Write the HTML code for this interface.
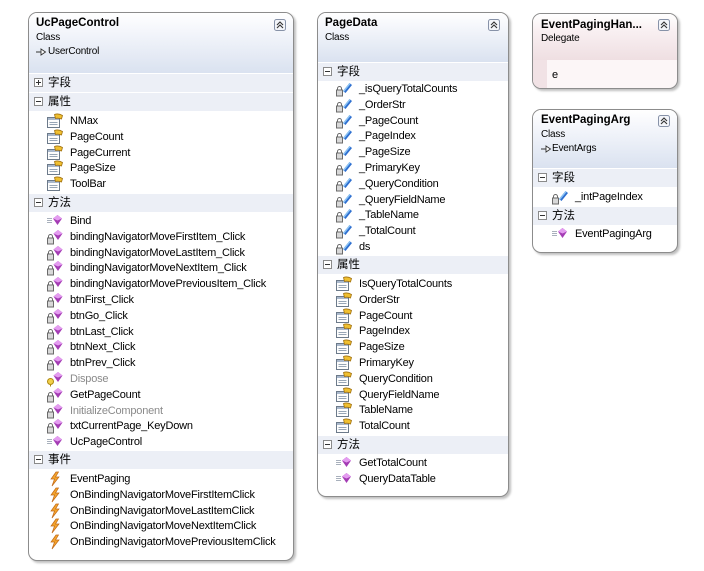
<!DOCTYPE html>
<html><head><meta charset="utf-8">
<style>
html,body{margin:0;padding:0}
body{width:704px;height:571px;background:#fff;position:relative;overflow:hidden;font-family:"Liberation Sans","Noto Sans CJK SC",sans-serif;color:#000}
.box{position:absolute;box-sizing:border-box;border:1px solid #8c8c8c;border-radius:9px;background:#fff;box-shadow:2px 2px 2px rgba(0,0,0,0.25);overflow:hidden}
.hd{position:absolute;left:0;right:0;top:0;background:linear-gradient(to bottom,#ffffff 0%,#f4f6fb 30%,#dae2f0 100%)}
.hd.pink{background:linear-gradient(to bottom,#ffffff 0%,#f9f0f2 35%,#efdfe2 100%)}
.tt{position:absolute;white-space:nowrap;font-weight:bold;font-size:11.5px;line-height:16px}
.st{position:absolute;white-space:nowrap;font-size:10px;line-height:16px;letter-spacing:-0.2px}
.band{position:absolute;left:0;right:0;height:19px;background:#eceff6;border-top:1px solid #fff;box-sizing:border-box}
.band svg{position:absolute;left:5px;top:4px}
.band .lb{position:absolute;left:19px;top:0;line-height:18px;font-size:11.5px;font-family:"Liberation Sans","Noto Sans CJK SC",sans-serif}
.list{position:absolute;left:0;right:0}
.r{position:relative;height:15.8px}
.r svg{position:absolute;left:17px;top:0}
.r span{position:absolute;left:41px;top:0;line-height:16px;font-size:11px;letter-spacing:-0.2px;white-space:nowrap}
.g span{color:#8a8a8a}
.btn{position:absolute;top:6px}
</style></head><body>

<!-- UcPageControl -->
<div class="box" style="left:28px;top:12px;width:266px;height:549px">
  <div class="hd" style="height:60px"></div>
  <div class="tt" style="left:7px;top:2px">UcPageControl</div>
  <div class="st" style="left:7px;top:17px">Class</div>
  <svg style="position:absolute;left:7px;top:35px" width="11" height="8"><path d="M0 4h6" stroke="#333"/><path d="M5 1 L9.5 4 L5 7 Z" fill="#fff" stroke="#333" stroke-width="0.9"/></svg>
  <div class="st" style="left:19px;top:31px">UserControl</div>
  <svg class="btn" style="left:245px" width="12" height="12"><rect x="0.5" y="0.5" width="11" height="11" rx="2" fill="#f3f5fa" stroke="#8792a8"/><path d="M3 6 L6 3 L9 6 M3 9 L6 6 L9 9" fill="none" stroke="#333" stroke-width="1.1"/></svg>

  <div class="band" style="top:60px"><svg width="9" height="9"><rect x="0.5" y="0.5" width="8" height="8" fill="#fff" stroke="#8a8a8a"/><path d="M2 4.5h5M4.5 2v5" stroke="#333"/></svg><span class="lb">字段</span></div>
  <div class="band" style="top:79px"><svg width="9" height="9"><rect x="0.5" y="0.5" width="8" height="8" fill="#fff" stroke="#8a8a8a"/><path d="M2 4.5h5" stroke="#333"/></svg><span class="lb">属性</span></div>
  <div class="list" style="top:100px">
    <div class="r"><svg width="18" height="16"><rect x="1.5" y="4.5" width="12" height="10" fill="#fdfdfd" stroke="#6c7a8a"/><rect x="2" y="5" width="11" height="2" fill="#a9b8cc"/><path d="M3.5 9.5h8M3.5 11.5h8" stroke="#98a6b6"/><path d="M8.5 1.5 C11 0.5 14 1 16.5 2.5 L15.5 6 C13 5 11 5 9.5 5.5 Z" fill="#f0c030" stroke="#a07010" stroke-width="0.8"/></svg><span>NMax</span></div>
    <div class="r"><svg width="18" height="16"><rect x="1.5" y="4.5" width="12" height="10" fill="#fdfdfd" stroke="#6c7a8a"/><rect x="2" y="5" width="11" height="2" fill="#a9b8cc"/><path d="M3.5 9.5h8M3.5 11.5h8" stroke="#98a6b6"/><path d="M8.5 1.5 C11 0.5 14 1 16.5 2.5 L15.5 6 C13 5 11 5 9.5 5.5 Z" fill="#f0c030" stroke="#a07010" stroke-width="0.8"/></svg><span>PageCount</span></div>
    <div class="r"><svg width="18" height="16"><rect x="1.5" y="4.5" width="12" height="10" fill="#fdfdfd" stroke="#6c7a8a"/><rect x="2" y="5" width="11" height="2" fill="#a9b8cc"/><path d="M3.5 9.5h8M3.5 11.5h8" stroke="#98a6b6"/><path d="M8.5 1.5 C11 0.5 14 1 16.5 2.5 L15.5 6 C13 5 11 5 9.5 5.5 Z" fill="#f0c030" stroke="#a07010" stroke-width="0.8"/></svg><span>PageCurrent</span></div>
    <div class="r"><svg width="18" height="16"><rect x="1.5" y="4.5" width="12" height="10" fill="#fdfdfd" stroke="#6c7a8a"/><rect x="2" y="5" width="11" height="2" fill="#a9b8cc"/><path d="M3.5 9.5h8M3.5 11.5h8" stroke="#98a6b6"/><path d="M8.5 1.5 C11 0.5 14 1 16.5 2.5 L15.5 6 C13 5 11 5 9.5 5.5 Z" fill="#f0c030" stroke="#a07010" stroke-width="0.8"/></svg><span>PageSize</span></div>
    <div class="r"><svg width="18" height="16"><rect x="1.5" y="4.5" width="12" height="10" fill="#fdfdfd" stroke="#6c7a8a"/><rect x="2" y="5" width="11" height="2" fill="#a9b8cc"/><path d="M3.5 9.5h8M3.5 11.5h8" stroke="#98a6b6"/><path d="M8.5 1.5 C11 0.5 14 1 16.5 2.5 L15.5 6 C13 5 11 5 9.5 5.5 Z" fill="#f0c030" stroke="#a07010" stroke-width="0.8"/></svg><span>ToolBar</span></div>
  </div>
  <div class="band" style="top:180px"><svg width="9" height="9"><rect x="0.5" y="0.5" width="8" height="8" fill="#fff" stroke="#8a8a8a"/><path d="M2 4.5h5" stroke="#333"/></svg><span class="lb">方法</span></div>
  <div class="list" style="top:200px">
    <div class="r"><svg width="18" height="16"><path d="M1 5.5h5M1 7.5h5M1 9.5h5" stroke="#a8b0bc"/><path d="M11.5 2 L16 5.5 L11.5 12 L7 5.5 Z" fill="#a43cb4"/><path d="M11.5 2 L16 5.5 L11.5 7.5 L7 5.5 Z" fill="#e49cf0"/></svg><span>Bind</span></div>
    <div class="r"><svg width="18" height="16"><path d="M2.5 9 V7.5 a2 2 0 0 1 4 0 V9" fill="none" stroke="#6a6a6a"/><rect x="1.5" y="9" width="6" height="6" fill="#d8d8d8" stroke="#6a6a6a"/><path d="M12 1 L16.5 4.5 L12 11 L7.5 4.5 Z" fill="#a43cb4"/><path d="M12 1 L16.5 4.5 L12 6.5 L7.5 4.5 Z" fill="#e49cf0"/></svg><span>bindingNavigatorMoveFirstItem_Click</span></div>
    <div class="r"><svg width="18" height="16"><path d="M2.5 9 V7.5 a2 2 0 0 1 4 0 V9" fill="none" stroke="#6a6a6a"/><rect x="1.5" y="9" width="6" height="6" fill="#d8d8d8" stroke="#6a6a6a"/><path d="M12 1 L16.5 4.5 L12 11 L7.5 4.5 Z" fill="#a43cb4"/><path d="M12 1 L16.5 4.5 L12 6.5 L7.5 4.5 Z" fill="#e49cf0"/></svg><span>bindingNavigatorMoveLastItem_Click</span></div>
    <div class="r"><svg width="18" height="16"><path d="M2.5 9 V7.5 a2 2 0 0 1 4 0 V9" fill="none" stroke="#6a6a6a"/><rect x="1.5" y="9" width="6" height="6" fill="#d8d8d8" stroke="#6a6a6a"/><path d="M12 1 L16.5 4.5 L12 11 L7.5 4.5 Z" fill="#a43cb4"/><path d="M12 1 L16.5 4.5 L12 6.5 L7.5 4.5 Z" fill="#e49cf0"/></svg><span>bindingNavigatorMoveNextItem_Click</span></div>
    <div class="r"><svg width="18" height="16"><path d="M2.5 9 V7.5 a2 2 0 0 1 4 0 V9" fill="none" stroke="#6a6a6a"/><rect x="1.5" y="9" width="6" height="6" fill="#d8d8d8" stroke="#6a6a6a"/><path d="M12 1 L16.5 4.5 L12 11 L7.5 4.5 Z" fill="#a43cb4"/><path d="M12 1 L16.5 4.5 L12 6.5 L7.5 4.5 Z" fill="#e49cf0"/></svg><span>bindingNavigatorMovePreviousItem_Click</span></div>
    <div class="r"><svg width="18" height="16"><path d="M2.5 9 V7.5 a2 2 0 0 1 4 0 V9" fill="none" stroke="#6a6a6a"/><rect x="1.5" y="9" width="6" height="6" fill="#d8d8d8" stroke="#6a6a6a"/><path d="M12 1 L16.5 4.5 L12 11 L7.5 4.5 Z" fill="#a43cb4"/><path d="M12 1 L16.5 4.5 L12 6.5 L7.5 4.5 Z" fill="#e49cf0"/></svg><span>btnFirst_Click</span></div>
    <div class="r"><svg width="18" height="16"><path d="M2.5 9 V7.5 a2 2 0 0 1 4 0 V9" fill="none" stroke="#6a6a6a"/><rect x="1.5" y="9" width="6" height="6" fill="#d8d8d8" stroke="#6a6a6a"/><path d="M12 1 L16.5 4.5 L12 11 L7.5 4.5 Z" fill="#a43cb4"/><path d="M12 1 L16.5 4.5 L12 6.5 L7.5 4.5 Z" fill="#e49cf0"/></svg><span>btnGo_Click</span></div>
    <div class="r"><svg width="18" height="16"><path d="M2.5 9 V7.5 a2 2 0 0 1 4 0 V9" fill="none" stroke="#6a6a6a"/><rect x="1.5" y="9" width="6" height="6" fill="#d8d8d8" stroke="#6a6a6a"/><path d="M12 1 L16.5 4.5 L12 11 L7.5 4.5 Z" fill="#a43cb4"/><path d="M12 1 L16.5 4.5 L12 6.5 L7.5 4.5 Z" fill="#e49cf0"/></svg><span>btnLast_Click</span></div>
    <div class="r"><svg width="18" height="16"><path d="M2.5 9 V7.5 a2 2 0 0 1 4 0 V9" fill="none" stroke="#6a6a6a"/><rect x="1.5" y="9" width="6" height="6" fill="#d8d8d8" stroke="#6a6a6a"/><path d="M12 1 L16.5 4.5 L12 11 L7.5 4.5 Z" fill="#a43cb4"/><path d="M12 1 L16.5 4.5 L12 6.5 L7.5 4.5 Z" fill="#e49cf0"/></svg><span>btnNext_Click</span></div>
    <div class="r"><svg width="18" height="16"><path d="M2.5 9 V7.5 a2 2 0 0 1 4 0 V9" fill="none" stroke="#6a6a6a"/><rect x="1.5" y="9" width="6" height="6" fill="#d8d8d8" stroke="#6a6a6a"/><path d="M12 1 L16.5 4.5 L12 11 L7.5 4.5 Z" fill="#a43cb4"/><path d="M12 1 L16.5 4.5 L12 6.5 L7.5 4.5 Z" fill="#e49cf0"/></svg><span>btnPrev_Click</span></div>
    <div class="r g"><svg width="18" height="16"><circle cx="4.5" cy="10.5" r="3" fill="#f2d04a" stroke="#b08a10"/><path d="M4.5 13.5v2" stroke="#b08a10"/><path d="M12 1 L16.5 4.5 L12 11 L7.5 4.5 Z" fill="#a43cb4"/><path d="M12 1 L16.5 4.5 L12 6.5 L7.5 4.5 Z" fill="#e49cf0"/></svg><span>Dispose</span></div>
    <div class="r"><svg width="18" height="16"><path d="M2.5 9 V7.5 a2 2 0 0 1 4 0 V9" fill="none" stroke="#6a6a6a"/><rect x="1.5" y="9" width="6" height="6" fill="#d8d8d8" stroke="#6a6a6a"/><path d="M12 1 L16.5 4.5 L12 11 L7.5 4.5 Z" fill="#a43cb4"/><path d="M12 1 L16.5 4.5 L12 6.5 L7.5 4.5 Z" fill="#e49cf0"/></svg><span>GetPageCount</span></div>
    <div class="r g"><svg width="18" height="16"><path d="M2.5 9 V7.5 a2 2 0 0 1 4 0 V9" fill="none" stroke="#6a6a6a"/><rect x="1.5" y="9" width="6" height="6" fill="#d8d8d8" stroke="#6a6a6a"/><path d="M12 1 L16.5 4.5 L12 11 L7.5 4.5 Z" fill="#a43cb4"/><path d="M12 1 L16.5 4.5 L12 6.5 L7.5 4.5 Z" fill="#e49cf0"/></svg><span>InitializeComponent</span></div>
    <div class="r"><svg width="18" height="16"><path d="M2.5 9 V7.5 a2 2 0 0 1 4 0 V9" fill="none" stroke="#6a6a6a"/><rect x="1.5" y="9" width="6" height="6" fill="#d8d8d8" stroke="#6a6a6a"/><path d="M12 1 L16.5 4.5 L12 11 L7.5 4.5 Z" fill="#a43cb4"/><path d="M12 1 L16.5 4.5 L12 6.5 L7.5 4.5 Z" fill="#e49cf0"/></svg><span>txtCurrentPage_KeyDown</span></div>
    <div class="r"><svg width="18" height="16"><path d="M1 5.5h5M1 7.5h5M1 9.5h5" stroke="#a8b0bc"/><path d="M11.5 2 L16 5.5 L11.5 12 L7 5.5 Z" fill="#a43cb4"/><path d="M11.5 2 L16 5.5 L11.5 7.5 L7 5.5 Z" fill="#e49cf0"/></svg><span>UcPageControl</span></div>
  </div>
  <div class="band" style="top:437px"><svg width="9" height="9"><rect x="0.5" y="0.5" width="8" height="8" fill="#fff" stroke="#8a8a8a"/><path d="M2 4.5h5" stroke="#333"/></svg><span class="lb">事件</span></div>
  <div class="list" style="top:458px">
    <div class="r"><svg width="18" height="16"><path d="M10 1 L5 8 L8.5 8 L6 15 L13 6 L9.5 6 L12.5 1 Z" fill="#f4a42c" stroke="#c06818" stroke-width="0.7"/></svg><span>EventPaging</span></div>
    <div class="r"><svg width="18" height="16"><path d="M10 1 L5 8 L8.5 8 L6 15 L13 6 L9.5 6 L12.5 1 Z" fill="#f4a42c" stroke="#c06818" stroke-width="0.7"/></svg><span>OnBindingNavigatorMoveFirstItemClick</span></div>
    <div class="r"><svg width="18" height="16"><path d="M10 1 L5 8 L8.5 8 L6 15 L13 6 L9.5 6 L12.5 1 Z" fill="#f4a42c" stroke="#c06818" stroke-width="0.7"/></svg><span>OnBindingNavigatorMoveLastItemClick</span></div>
    <div class="r"><svg width="18" height="16"><path d="M10 1 L5 8 L8.5 8 L6 15 L13 6 L9.5 6 L12.5 1 Z" fill="#f4a42c" stroke="#c06818" stroke-width="0.7"/></svg><span>OnBindingNavigatorMoveNextItemClick</span></div>
    <div class="r"><svg width="18" height="16"><path d="M10 1 L5 8 L8.5 8 L6 15 L13 6 L9.5 6 L12.5 1 Z" fill="#f4a42c" stroke="#c06818" stroke-width="0.7"/></svg><span>OnBindingNavigatorMovePreviousItemClick</span></div>
  </div>
</div>

<!-- PageData -->
<div class="box" style="left:317px;top:12px;width:192px;height:485px">
  <div class="hd" style="height:49px"></div>
  <div class="tt" style="left:7px;top:2px">PageData</div>
  <div class="st" style="left:7px;top:17px">Class</div>
  <svg class="btn" style="left:170px" width="12" height="12"><rect x="0.5" y="0.5" width="11" height="11" rx="2" fill="#f3f5fa" stroke="#8792a8"/><path d="M3 6 L6 3 L9 6 M3 9 L6 6 L9 9" fill="none" stroke="#333" stroke-width="1.1"/></svg>

  <div class="band" style="top:49px"><svg width="9" height="9"><rect x="0.5" y="0.5" width="8" height="8" fill="#fff" stroke="#8a8a8a"/><path d="M2 4.5h5" stroke="#333"/></svg><span class="lb">字段</span></div>
  <div class="list" style="top:68px">
    <div class="r"><svg width="18" height="16"><path d="M2.5 9 V7.5 a2 2 0 0 1 4 0 V9" fill="none" stroke="#6a6a6a"/><rect x="1.5" y="9" width="6" height="6" fill="#d8d8d8" stroke="#6a6a6a"/><path d="M8 10 L14.5 2 L17 4 L10.5 12 Z" fill="#2e6fd0"/><path d="M8 10 L14.5 2 L15.5 3 L9 11 Z" fill="#8cc4f4"/></svg><span>_isQueryTotalCounts</span></div>
    <div class="r"><svg width="18" height="16"><path d="M2.5 9 V7.5 a2 2 0 0 1 4 0 V9" fill="none" stroke="#6a6a6a"/><rect x="1.5" y="9" width="6" height="6" fill="#d8d8d8" stroke="#6a6a6a"/><path d="M8 10 L14.5 2 L17 4 L10.5 12 Z" fill="#2e6fd0"/><path d="M8 10 L14.5 2 L15.5 3 L9 11 Z" fill="#8cc4f4"/></svg><span>_OrderStr</span></div>
    <div class="r"><svg width="18" height="16"><path d="M2.5 9 V7.5 a2 2 0 0 1 4 0 V9" fill="none" stroke="#6a6a6a"/><rect x="1.5" y="9" width="6" height="6" fill="#d8d8d8" stroke="#6a6a6a"/><path d="M8 10 L14.5 2 L17 4 L10.5 12 Z" fill="#2e6fd0"/><path d="M8 10 L14.5 2 L15.5 3 L9 11 Z" fill="#8cc4f4"/></svg><span>_PageCount</span></div>
    <div class="r"><svg width="18" height="16"><path d="M2.5 9 V7.5 a2 2 0 0 1 4 0 V9" fill="none" stroke="#6a6a6a"/><rect x="1.5" y="9" width="6" height="6" fill="#d8d8d8" stroke="#6a6a6a"/><path d="M8 10 L14.5 2 L17 4 L10.5 12 Z" fill="#2e6fd0"/><path d="M8 10 L14.5 2 L15.5 3 L9 11 Z" fill="#8cc4f4"/></svg><span>_PageIndex</span></div>
    <div class="r"><svg width="18" height="16"><path d="M2.5 9 V7.5 a2 2 0 0 1 4 0 V9" fill="none" stroke="#6a6a6a"/><rect x="1.5" y="9" width="6" height="6" fill="#d8d8d8" stroke="#6a6a6a"/><path d="M8 10 L14.5 2 L17 4 L10.5 12 Z" fill="#2e6fd0"/><path d="M8 10 L14.5 2 L15.5 3 L9 11 Z" fill="#8cc4f4"/></svg><span>_PageSize</span></div>
    <div class="r"><svg width="18" height="16"><path d="M2.5 9 V7.5 a2 2 0 0 1 4 0 V9" fill="none" stroke="#6a6a6a"/><rect x="1.5" y="9" width="6" height="6" fill="#d8d8d8" stroke="#6a6a6a"/><path d="M8 10 L14.5 2 L17 4 L10.5 12 Z" fill="#2e6fd0"/><path d="M8 10 L14.5 2 L15.5 3 L9 11 Z" fill="#8cc4f4"/></svg><span>_PrimaryKey</span></div>
    <div class="r"><svg width="18" height="16"><path d="M2.5 9 V7.5 a2 2 0 0 1 4 0 V9" fill="none" stroke="#6a6a6a"/><rect x="1.5" y="9" width="6" height="6" fill="#d8d8d8" stroke="#6a6a6a"/><path d="M8 10 L14.5 2 L17 4 L10.5 12 Z" fill="#2e6fd0"/><path d="M8 10 L14.5 2 L15.5 3 L9 11 Z" fill="#8cc4f4"/></svg><span>_QueryCondition</span></div>
    <div class="r"><svg width="18" height="16"><path d="M2.5 9 V7.5 a2 2 0 0 1 4 0 V9" fill="none" stroke="#6a6a6a"/><rect x="1.5" y="9" width="6" height="6" fill="#d8d8d8" stroke="#6a6a6a"/><path d="M8 10 L14.5 2 L17 4 L10.5 12 Z" fill="#2e6fd0"/><path d="M8 10 L14.5 2 L15.5 3 L9 11 Z" fill="#8cc4f4"/></svg><span>_QueryFieldName</span></div>
    <div class="r"><svg width="18" height="16"><path d="M2.5 9 V7.5 a2 2 0 0 1 4 0 V9" fill="none" stroke="#6a6a6a"/><rect x="1.5" y="9" width="6" height="6" fill="#d8d8d8" stroke="#6a6a6a"/><path d="M8 10 L14.5 2 L17 4 L10.5 12 Z" fill="#2e6fd0"/><path d="M8 10 L14.5 2 L15.5 3 L9 11 Z" fill="#8cc4f4"/></svg><span>_TableName</span></div>
    <div class="r"><svg width="18" height="16"><path d="M2.5 9 V7.5 a2 2 0 0 1 4 0 V9" fill="none" stroke="#6a6a6a"/><rect x="1.5" y="9" width="6" height="6" fill="#d8d8d8" stroke="#6a6a6a"/><path d="M8 10 L14.5 2 L17 4 L10.5 12 Z" fill="#2e6fd0"/><path d="M8 10 L14.5 2 L15.5 3 L9 11 Z" fill="#8cc4f4"/></svg><span>_TotalCount</span></div>
    <div class="r"><svg width="18" height="16"><path d="M2.5 9 V7.5 a2 2 0 0 1 4 0 V9" fill="none" stroke="#6a6a6a"/><rect x="1.5" y="9" width="6" height="6" fill="#d8d8d8" stroke="#6a6a6a"/><path d="M8 10 L14.5 2 L17 4 L10.5 12 Z" fill="#2e6fd0"/><path d="M8 10 L14.5 2 L15.5 3 L9 11 Z" fill="#8cc4f4"/></svg><span>ds</span></div>
  </div>
  <div class="band" style="top:242px"><svg width="9" height="9"><rect x="0.5" y="0.5" width="8" height="8" fill="#fff" stroke="#8a8a8a"/><path d="M2 4.5h5" stroke="#333"/></svg><span class="lb">属性</span></div>
  <div class="list" style="top:263px">
    <div class="r"><svg width="18" height="16"><rect x="1.5" y="4.5" width="12" height="10" fill="#fdfdfd" stroke="#6c7a8a"/><rect x="2" y="5" width="11" height="2" fill="#a9b8cc"/><path d="M3.5 9.5h8M3.5 11.5h8" stroke="#98a6b6"/><path d="M8.5 1.5 C11 0.5 14 1 16.5 2.5 L15.5 6 C13 5 11 5 9.5 5.5 Z" fill="#f0c030" stroke="#a07010" stroke-width="0.8"/></svg><span>IsQueryTotalCounts</span></div>
    <div class="r"><svg width="18" height="16"><rect x="1.5" y="4.5" width="12" height="10" fill="#fdfdfd" stroke="#6c7a8a"/><rect x="2" y="5" width="11" height="2" fill="#a9b8cc"/><path d="M3.5 9.5h8M3.5 11.5h8" stroke="#98a6b6"/><path d="M8.5 1.5 C11 0.5 14 1 16.5 2.5 L15.5 6 C13 5 11 5 9.5 5.5 Z" fill="#f0c030" stroke="#a07010" stroke-width="0.8"/></svg><span>OrderStr</span></div>
    <div class="r"><svg width="18" height="16"><rect x="1.5" y="4.5" width="12" height="10" fill="#fdfdfd" stroke="#6c7a8a"/><rect x="2" y="5" width="11" height="2" fill="#a9b8cc"/><path d="M3.5 9.5h8M3.5 11.5h8" stroke="#98a6b6"/><path d="M8.5 1.5 C11 0.5 14 1 16.5 2.5 L15.5 6 C13 5 11 5 9.5 5.5 Z" fill="#f0c030" stroke="#a07010" stroke-width="0.8"/></svg><span>PageCount</span></div>
    <div class="r"><svg width="18" height="16"><rect x="1.5" y="4.5" width="12" height="10" fill="#fdfdfd" stroke="#6c7a8a"/><rect x="2" y="5" width="11" height="2" fill="#a9b8cc"/><path d="M3.5 9.5h8M3.5 11.5h8" stroke="#98a6b6"/><path d="M8.5 1.5 C11 0.5 14 1 16.5 2.5 L15.5 6 C13 5 11 5 9.5 5.5 Z" fill="#f0c030" stroke="#a07010" stroke-width="0.8"/></svg><span>PageIndex</span></div>
    <div class="r"><svg width="18" height="16"><rect x="1.5" y="4.5" width="12" height="10" fill="#fdfdfd" stroke="#6c7a8a"/><rect x="2" y="5" width="11" height="2" fill="#a9b8cc"/><path d="M3.5 9.5h8M3.5 11.5h8" stroke="#98a6b6"/><path d="M8.5 1.5 C11 0.5 14 1 16.5 2.5 L15.5 6 C13 5 11 5 9.5 5.5 Z" fill="#f0c030" stroke="#a07010" stroke-width="0.8"/></svg><span>PageSize</span></div>
    <div class="r"><svg width="18" height="16"><rect x="1.5" y="4.5" width="12" height="10" fill="#fdfdfd" stroke="#6c7a8a"/><rect x="2" y="5" width="11" height="2" fill="#a9b8cc"/><path d="M3.5 9.5h8M3.5 11.5h8" stroke="#98a6b6"/><path d="M8.5 1.5 C11 0.5 14 1 16.5 2.5 L15.5 6 C13 5 11 5 9.5 5.5 Z" fill="#f0c030" stroke="#a07010" stroke-width="0.8"/></svg><span>PrimaryKey</span></div>
    <div class="r"><svg width="18" height="16"><rect x="1.5" y="4.5" width="12" height="10" fill="#fdfdfd" stroke="#6c7a8a"/><rect x="2" y="5" width="11" height="2" fill="#a9b8cc"/><path d="M3.5 9.5h8M3.5 11.5h8" stroke="#98a6b6"/><path d="M8.5 1.5 C11 0.5 14 1 16.5 2.5 L15.5 6 C13 5 11 5 9.5 5.5 Z" fill="#f0c030" stroke="#a07010" stroke-width="0.8"/></svg><span>QueryCondition</span></div>
    <div class="r"><svg width="18" height="16"><rect x="1.5" y="4.5" width="12" height="10" fill="#fdfdfd" stroke="#6c7a8a"/><rect x="2" y="5" width="11" height="2" fill="#a9b8cc"/><path d="M3.5 9.5h8M3.5 11.5h8" stroke="#98a6b6"/><path d="M8.5 1.5 C11 0.5 14 1 16.5 2.5 L15.5 6 C13 5 11 5 9.5 5.5 Z" fill="#f0c030" stroke="#a07010" stroke-width="0.8"/></svg><span>QueryFieldName</span></div>
    <div class="r"><svg width="18" height="16"><rect x="1.5" y="4.5" width="12" height="10" fill="#fdfdfd" stroke="#6c7a8a"/><rect x="2" y="5" width="11" height="2" fill="#a9b8cc"/><path d="M3.5 9.5h8M3.5 11.5h8" stroke="#98a6b6"/><path d="M8.5 1.5 C11 0.5 14 1 16.5 2.5 L15.5 6 C13 5 11 5 9.5 5.5 Z" fill="#f0c030" stroke="#a07010" stroke-width="0.8"/></svg><span>TableName</span></div>
    <div class="r"><svg width="18" height="16"><rect x="1.5" y="4.5" width="12" height="10" fill="#fdfdfd" stroke="#6c7a8a"/><rect x="2" y="5" width="11" height="2" fill="#a9b8cc"/><path d="M3.5 9.5h8M3.5 11.5h8" stroke="#98a6b6"/><path d="M8.5 1.5 C11 0.5 14 1 16.5 2.5 L15.5 6 C13 5 11 5 9.5 5.5 Z" fill="#f0c030" stroke="#a07010" stroke-width="0.8"/></svg><span>TotalCount</span></div>
  </div>
  <div class="band" style="top:422px"><svg width="9" height="9"><rect x="0.5" y="0.5" width="8" height="8" fill="#fff" stroke="#8a8a8a"/><path d="M2 4.5h5" stroke="#333"/></svg><span class="lb">方法</span></div>
  <div class="list" style="top:442px">
    <div class="r"><svg width="18" height="16"><path d="M1 5.5h5M1 7.5h5M1 9.5h5" stroke="#a8b0bc"/><path d="M11.5 2 L16 5.5 L11.5 12 L7 5.5 Z" fill="#a43cb4"/><path d="M11.5 2 L16 5.5 L11.5 7.5 L7 5.5 Z" fill="#e49cf0"/></svg><span>GetTotalCount</span></div>
    <div class="r"><svg width="18" height="16"><path d="M1 5.5h5M1 7.5h5M1 9.5h5" stroke="#a8b0bc"/><path d="M11.5 2 L16 5.5 L11.5 12 L7 5.5 Z" fill="#a43cb4"/><path d="M11.5 2 L16 5.5 L11.5 7.5 L7 5.5 Z" fill="#e49cf0"/></svg><span>QueryDataTable</span></div>
  </div>
</div>

<!-- EventPagingHandler (Delegate) -->
<div class="box" style="left:532px;top:13px;width:146px;height:76px;background:#fcf6f7">
  <div class="hd pink" style="height:46px"></div>
  <div style="position:absolute;left:0;top:46px;width:14px;bottom:0;background:#f1e2e5"></div>
  <div class="tt" style="left:8px;top:3px">EventPagingHan...</div>
  <div class="st" style="left:8px;top:17px">Delegate</div>
  <svg class="btn" style="left:125px;top:5px" width="12" height="12"><rect x="0.5" y="0.5" width="11" height="11" rx="2" fill="#f3f5fa" stroke="#8792a8"/><path d="M3 6 L6 3 L9 6 M3 9 L6 6 L9 9" fill="none" stroke="#333" stroke-width="1.1"/></svg>
  <div class="st" style="left:19px;top:53px;font-size:11px">e</div>
</div>

<!-- EventPagingArg -->
<div class="box" style="left:532px;top:109px;width:146px;height:144px">
  <div class="hd" style="height:58px"></div>
  <div class="tt" style="left:8px;top:2px">EventPagingArg</div>
  <div class="st" style="left:8px;top:17px">Class</div>
  <svg style="position:absolute;left:8px;top:35px" width="11" height="8"><path d="M0 4h6" stroke="#333"/><path d="M5 1 L9.5 4 L5 7 Z" fill="#fff" stroke="#333" stroke-width="0.9"/></svg>
  <div class="st" style="left:19px;top:31px">EventArgs</div>
  <svg class="btn" style="left:125px;top:5px" width="12" height="12"><rect x="0.5" y="0.5" width="11" height="11" rx="2" fill="#f3f5fa" stroke="#8792a8"/><path d="M3 6 L6 3 L9 6 M3 9 L6 6 L9 9" fill="none" stroke="#333" stroke-width="1.1"/></svg>
  <div class="band" style="top:58px"><svg width="9" height="9"><rect x="0.5" y="0.5" width="8" height="8" fill="#fff" stroke="#8a8a8a"/><path d="M2 4.5h5" stroke="#333"/></svg><span class="lb">字段</span></div>
  <div class="list" style="top:79px">
    <div class="r"><svg width="18" height="16" style="left:18px"><path d="M2.5 9 V7.5 a2 2 0 0 1 4 0 V9" fill="none" stroke="#6a6a6a"/><rect x="1.5" y="9" width="6" height="6" fill="#d8d8d8" stroke="#6a6a6a"/><path d="M8 10 L14.5 2 L17 4 L10.5 12 Z" fill="#2e6fd0"/><path d="M8 10 L14.5 2 L15.5 3 L9 11 Z" fill="#8cc4f4"/></svg><span style="left:42px">_intPageIndex</span></div>
  </div>
  <div class="band" style="top:96px"><svg width="9" height="9"><rect x="0.5" y="0.5" width="8" height="8" fill="#fff" stroke="#8a8a8a"/><path d="M2 4.5h5" stroke="#333"/></svg><span class="lb">方法</span></div>
  <div class="list" style="top:116px">
    <div class="r"><svg width="18" height="16" style="left:18px"><path d="M1 5.5h5M1 7.5h5M1 9.5h5" stroke="#a8b0bc"/><path d="M11.5 2 L16 5.5 L11.5 12 L7 5.5 Z" fill="#a43cb4"/><path d="M11.5 2 L16 5.5 L11.5 7.5 L7 5.5 Z" fill="#e49cf0"/></svg><span style="left:42px">EventPagingArg</span></div>
  </div>
</div>

</body></html>
